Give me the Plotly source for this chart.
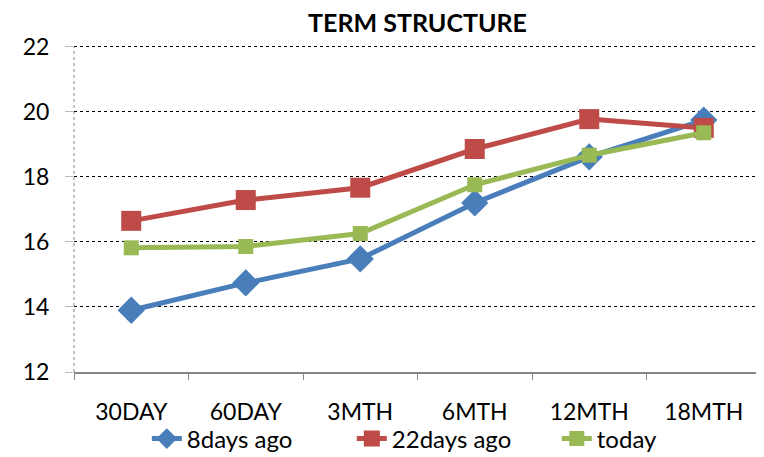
import plotly.graph_objects as go

categories = ["30DAY", "60DAY", "3MTH", "6MTH", "12MTH", "18MTH"]
days8_ago = [13.9, 14.74, 15.48, 17.2, 18.62, 19.75]
days22_ago = [16.65, 17.29, 17.67, 18.86, 19.78, 19.51]
today = [15.82, 15.86, 16.26, 17.76, 18.67, 19.36]
y_ticks = [12, 14, 16, 18, 20, 22]

FONT = "Lato"
# The page body adds an 8px offset, so the figure is 8px smaller and margins compensate.
W, H, OFF = 764, 457, 8

fig = go.Figure()
fig.add_trace(go.Scatter(x=categories, y=days8_ago, name="8days ago", mode="lines+markers",
                         line=dict(color="#4A7EBB", width=5),
                         marker=dict(symbol="diamond", size=21, color="#4A7EBB")))
fig.add_trace(go.Scatter(x=categories, y=days22_ago, name="22days ago", mode="lines+markers",
                         line=dict(color="#BE4B48", width=5),
                         marker=dict(symbol="square", size=20, color="#BE4B48")))
fig.add_trace(go.Scatter(x=categories, y=today, name="today", mode="lines+markers",
                         line=dict(color="#98B954", width=5),
                         marker=dict(symbol="square", size=15, color="#98B954")))

fig.update_layout(
    width=W - OFF, height=H - OFF,
    margin=dict(l=74 - OFF, r=3, t=45 - OFF, b=85, autoexpand=False),
    paper_bgcolor="white", plot_bgcolor="white",
    font=dict(family=FONT, size=23, color="black"),
    title=dict(text="<b>TERM STRUCTURE</b>", x=0.5, xanchor="center", xref="paper",
               y=1 - (23.5 - OFF) / (H - OFF), yanchor="middle", yref="container",
               font=dict(family=FONT, size=25, color="black")),
    showlegend=True,
    legend=dict(orientation="h", x=0.106, xanchor="left", xref="paper",
                y=1 - (439 - OFF) / (H - OFF), yanchor="middle", yref="container",
                font=dict(size=24), tracegroupgap=0, entrywidth=160, entrywidthmode="pixels",
                bgcolor="rgba(0,0,0,0)"),
)
fig.update_xaxes(type="category", tickson="boundaries", ticks="outside", ticklen=6,
                 tickcolor="#868686", showline=True, linecolor="#868686", linewidth=2,
                 showgrid=False, tickfont=dict(size=23), ticklabelstandoff=18,
                 range=[-0.5, 5.5], automargin=False)
fig.update_yaxes(range=[12, 22.06], tickvals=y_ticks,
                 showgrid=True, gridcolor="black", griddash="dot",
                 gridwidth=1.3, zeroline=False, showline=False, ticks="outside", ticklen=8,
                 tickcolor="#BBBBBB", tickfont=dict(size=23), ticklabelstandoff=11,
                 automargin=False)
fig.add_shape(type="line", xref="paper", x0=0, x1=0, yref="y", y0=12, y1=22,
              line=dict(color="#A6A6A6", width=1.3, dash="dot"), layer="below")

fig.write_html("out.html")
